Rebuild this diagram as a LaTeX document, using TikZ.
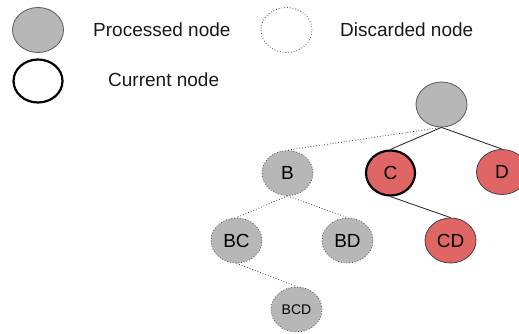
\documentclass[tikz,border=0pt]{standalone}
\usepackage{fontspec}
\setmainfont{Liberation Sans}
\usetikzlibrary{shapes.geometric}
\begin{document}
\begin{tikzpicture}[x=1pt,y=-1pt,
  base/.style={ellipse, minimum width=51pt, minimum height=45pt, inner sep=0pt, font=\fontsize{19}{22}\selectfont},
  processed/.style={base, draw=black!65, fill=procgray, line width=0.8pt},
  discarded/.style={base, draw=black!70, fill=procgray, dotted, line width=0.8pt},
  legdiscard/.style={base, draw=black!70, dotted, line width=0.8pt},
  current/.style={base, draw=black, fill=curred, line width=2.2pt},
  active/.style={base, draw=black!75, fill=curred, line width=0.8pt},
  legcurrent/.style={base, draw=black, line width=2.2pt},
  solidedge/.style={draw=black!80, line width=0.9pt},
  dotedge/.style={draw=black!75, dotted, line width=0.8pt},
  legtext/.style={anchor=west, font=\fontsize{19}{22}\selectfont, text=black!90, inner sep=0pt}
]
\definecolor{procgray}{HTML}{B7B7B7}
\definecolor{curred}{HTML}{E06666}
\useasboundingbox (0,0) rectangle (519,333);
\begin{scope}
\clip (0,0) rectangle (519,333);
% legend
\node[processed] (lp) at (38,30) {};
\node[legtext] (lpt) at (93,30) {Processed node};
\node[legdiscard] (ld) at (286.5,30) {};
\node[legtext] (ldt) at (340,30) {Discarded node};
\node[legcurrent, minimum width=49pt, minimum height=43pt] (lc) at (38,81) {};
\node[legtext] (lct) at (108,80) {Current node};
% tree
\node[processed] (root) at (441.5,104.5) {};
\node[discarded] (B) at (287.5,173) {B};
\node[current, minimum width=49pt, minimum height=45pt] (C) at (390.5,173) {C};
\node[active] (D) at (502,172) {D};
\node[discarded] (BC) at (236.5,240.5) {BC};
\node[discarded] (BD) at (347.5,240.5) {BD};
\node[active] (CD) at (450.5,240.5) {CD};
\node[discarded, font=\fontsize{14}{16}\selectfont] (BCD) at (296.5,309.5) {BCD};
% edges
\draw[dotedge] (root.south) -- (B.north);
\draw[solidedge] (root.south) -- (C.north);
\draw[solidedge] (root.south) -- (D.north);
\draw[dotedge] (B.south) -- (BC.north);
\draw[dotedge] (B.south) -- (BD.north);
\draw[solidedge] (C.south) -- (CD.north);
\draw[dotedge] (BC.south) -- (BCD.north);
\end{scope}
\end{tikzpicture}
\end{document}
